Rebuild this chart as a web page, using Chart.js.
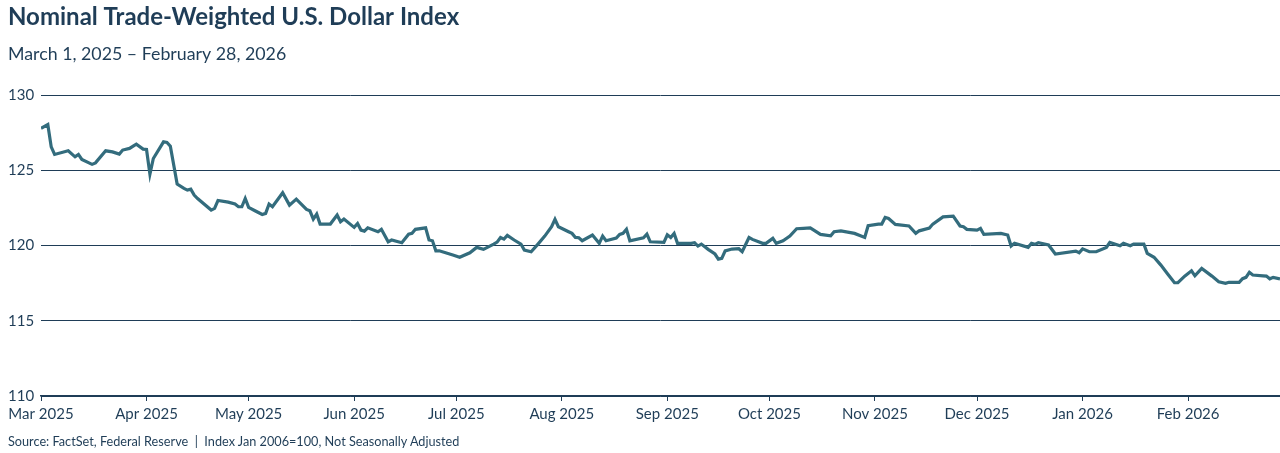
<!DOCTYPE html>
<html>
<head>
<meta charset="utf-8">
<script src="https://cdn.jsdelivr.net/npm/chart.js@4.4.1/dist/chart.umd.min.js"></script>
<style>
  html, body { margin: 0; padding: 0; background: #fff; }
  #wrap { position: relative; width: 1280px; height: 453px; }
  #source { position: absolute; left: 8px; top: 433px; font: 12.7px Lato, sans-serif; color: #1f3d57; white-space: pre; }
</style>
</head>
<body>
<div id="wrap">
  <canvas id="canvas" width="1280" height="453"></canvas>
  <div id="source">Source: FactSet, Federal Reserve  |  Index Jan 2006=100, Not Seasonally Adjusted</div>
</div>
<script>
// days counted from March 1, 2025
const dayOffsets = [
  0, 2, 3, 4, 8, 10, 11, 12, 15, 16, 19, 21, 23, 24, 26, 28, 30, 31, 32, 33,
  36, 37, 38, 40, 42, 43, 44, 45, 46, 50, 51, 52, 55, 57, 58, 59, 60, 61, 63, 65,
  66, 67, 68, 71, 73, 75, 78, 79, 80, 81, 82, 85, 87, 88, 89, 92, 93, 94, 95, 96,
  99, 100, 102, 103, 106, 108, 109, 110, 113, 114, 115, 116, 117, 121, 123, 126, 128, 130, 133, 134,
  135, 136, 137, 139, 141, 142, 144, 146, 148, 150, 151, 152, 155, 156, 157, 158, 159, 162, 164, 165,
  166, 169, 170, 171, 172, 173, 177, 178, 179, 183, 184, 185, 186, 187, 191, 192, 193, 194, 196, 198,
  199, 200, 201, 203, 205, 206, 208, 209, 212, 213, 215, 216, 218, 220, 222, 224, 226, 229, 232, 233,
  235, 239, 242, 243, 246, 247, 248, 249, 251, 255, 257, 258, 261, 262, 265, 268, 270, 271, 272, 275,
  276, 277, 282, 284, 285, 286, 290, 291, 292, 293, 296, 298, 304, 305, 306, 308, 310, 313, 314, 317,
  318, 320, 321, 324, 325, 327, 329, 331, 333, 334, 336, 338, 339, 341, 344, 346, 348, 349, 352, 353,
  354, 355, 356, 359, 360, 361, 362, 364
];
const indexValues = [
  127.80, 128.05, 126.56, 126.06, 126.30, 125.90, 126.06, 125.73, 125.40, 125.50, 126.30, 126.23, 126.08, 126.35, 126.46, 126.74, 126.41, 126.39, 124.75, 125.79,
  126.90, 126.86, 126.61, 124.09, 123.80, 123.69, 123.75, 123.36, 123.13, 122.36, 122.47, 123.00, 122.89, 122.76, 122.58, 122.58, 123.13, 122.54, 122.30, 122.07,
  122.14, 122.76, 122.58, 123.51, 122.69, 123.09, 122.40, 122.31, 121.76, 122.09, 121.43, 121.43, 122.03, 121.58, 121.76, 121.21, 121.47, 121.03, 120.96, 121.18,
  120.92, 121.08, 120.25, 120.37, 120.19, 120.76, 120.81, 121.08, 121.18, 120.37, 120.32, 119.65, 119.65, 119.37, 119.22, 119.52, 119.88, 119.75, 120.10, 120.23,
  120.54, 120.43, 120.68, 120.37, 120.10, 119.70, 119.59, 120.10, 120.63, 121.25, 121.74, 121.25, 120.92, 120.81, 120.54, 120.52, 120.32, 120.70, 120.15, 120.63,
  120.32, 120.50, 120.74, 120.81, 121.08, 120.32, 120.52, 120.76, 120.25, 120.21, 120.72, 120.54, 120.81, 120.15, 120.15, 120.19, 119.97, 120.10, 119.75, 119.44,
  119.10, 119.15, 119.65, 119.77, 119.79, 119.59, 120.54, 120.41, 120.15, 120.15, 120.48, 120.15, 120.32, 120.63, 121.12, 121.15, 121.18, 120.74, 120.65, 120.92,
  120.98, 120.81, 120.54, 121.32, 121.43, 121.43, 121.87, 121.80, 121.41, 121.30, 120.81, 120.98, 121.16, 121.43, 121.91, 121.96, 121.30, 121.25, 121.08, 121.03,
  121.14, 120.74, 120.81, 120.70, 119.97, 120.15, 119.88, 120.15, 120.08, 120.19, 120.04, 119.44, 119.63, 119.52, 119.78, 119.59, 119.59, 119.88, 120.21, 119.99,
  120.15, 119.99, 120.10, 120.10, 119.48, 119.22, 118.70, 118.11, 117.53, 117.53, 117.97, 118.32, 117.99, 118.48, 117.97, 117.60, 117.49, 117.56, 117.56, 117.80,
  117.89, 118.22, 118.04, 117.99, 117.97, 117.79, 117.89, 117.79
];
const monthStarts = [0, 31, 61, 92, 122, 153, 184, 214, 245, 275, 306, 337];
const monthLabels = ['Mar 2025', 'Apr 2025', 'May 2025', 'Jun 2025', 'Jul 2025', 'Aug 2025',
  'Sep 2025', 'Oct 2025', 'Nov 2025', 'Dec 2025', 'Jan 2026', 'Feb 2026'];
const yTicks = [110, 115, 120, 125, 130];

const navy = '#1f3d57';
const lineColor = '#336c7d';
const fontFamily = 'Lato, "Noto Sans", sans-serif';

const points = dayOffsets.map((d, i) => ({ x: d, y: indexValues[i] }));

new Chart(document.getElementById('canvas'), {
  type: 'line',
  data: {
    datasets: [{
      label: 'Nominal Trade-Weighted U.S. Dollar Index',
      data: points,
      borderColor: lineColor,
      borderWidth: 3.2,
      pointRadius: 0,
      tension: 0,
      fill: false
    }]
  },
  options: {
    responsive: false,
    animation: false,
    layout: { padding: { left: 8, right: 0, top: 0, bottom: 26 } },
    plugins: {
      legend: { display: false },
      tooltip: { enabled: false },
      title: {
        display: true,
        text: 'Nominal Trade-Weighted U.S. Dollar Index',
        align: 'start',
        color: navy,
        font: { family: fontFamily, size: 24, weight: 'bold' },
        padding: { top: 3, bottom: 12 }
      },
      subtitle: {
        display: true,
        text: 'March 1, 2025 \u2013 February 28, 2026',
        align: 'start',
        color: navy,
        font: { family: fontFamily, size: 17.8 },
        padding: { top: 0, bottom: 30 }
      }
    },
    scales: {
      x: {
        type: 'linear',
        min: 0,
        max: 364,
        afterBuildTicks: (axis) => { axis.ticks = monthStarts.map(v => ({ value: v })); },
        ticks: {
          color: navy,
          font: { family: fontFamily, size: 15 },
          maxRotation: 0,
          autoSkip: false,
          padding: 4,
          callback: (value) => monthLabels[monthStarts.indexOf(value)]
        },
        grid: { drawOnChartArea: false, drawTicks: true, tickLength: 5, color: navy },
        border: { display: true, color: navy, width: 1.5 }
      },
      y: {
        min: 110,
        max: 130,
        afterBuildTicks: (axis) => { axis.ticks = yTicks.map(v => ({ value: v })); },
        afterFit: (axis) => { axis.width = 33; },
        ticks: {
          color: navy,
          font: { family: fontFamily, size: 15 },
          crossAlign: 'far',
          padding: 6
        },
        grid: { color: navy, lineWidth: 1, drawTicks: false },
        border: { display: false }
      }
    }
  }
});
</script>
</body>
</html>
